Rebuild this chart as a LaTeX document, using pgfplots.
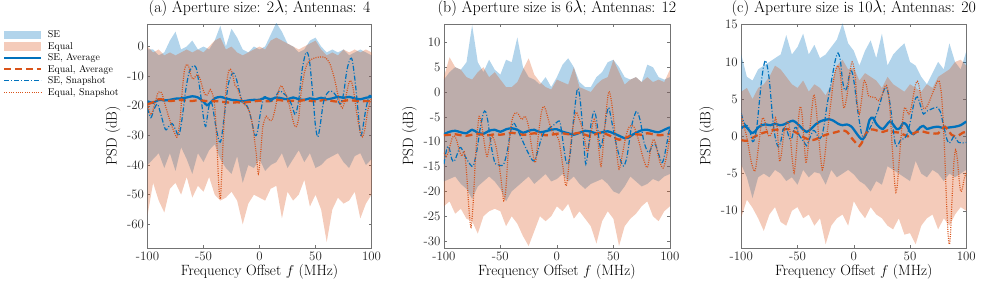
\documentclass[border=0pt]{standalone}
\usepackage{fontspec}
\usepackage{pgfplots}
\usepackage{pgfplotstable}
\pgfplotsset{compat=1.18}
\usepgfplotslibrary{fillbetween}
\definecolor{seblue}{rgb}{0,0.447,0.741}
\definecolor{eqorange}{rgb}{0.85,0.325,0.098}

\pgfplotstableread{
x seu sel equ eql
-100 -1 -40 0 -57
-95 -1 -38 -2 -46
-90 -3 -36 -1 -52
-85 -2 -41 -3 -56
-80 2 -36 -2 -48
-75 5 -42 -3 -46
-70 -1 -34 -2 -50
-65 0 -38 -1 -44
-60 2 -43 -2 -51
-55 -1 -36 -1 -47
-50 0 -39 -2 -49
-45 -1 -35 0 -44
-40 2 -33 2 -50
-35 7 -38 3 -52
-30 0 -41 -1 -51
-25 6 -43 0 -49
-20 3 -37 -2 -52
-15 -1 -46 -3 -60
-10 -2 -40 -2 -53
-5 0 -41 -1 -50
0 -1 -38 0 -51
5 0 -42 -1 -52
10 4 -40 2 -48
15 8 -39 3 -47
20 5 -36 2 -58
25 1 -41 1 -49
30 0 -38 0 -52
35 -2 -35 -1 -50
40 -1 -39 0 -45
45 2 -36 1 -54
50 3 -41 2 -50
55 0 -40 -1 -55
60 -2 -38 -3 -66
65 -1 -37 -2 -55
70 -2 -36 -3 -51
75 -1 -39 -1 -53
80 -3 -41 -2 -52
85 -2 -37 -1 -49
90 -1 -36 -2 -58
95 -2 -40 -1 -53
100 -3 -38 -2 -50
}\bandA

\pgfplotstableread{
x seu sel equ eql
-100 2.5 -18 3 -23
-95 4 -17.5 7 -22
-90 5 -17 5 -24.5
-85 4.5 -18.5 4.5 -23.5
-80 6 -19.5 3 -25.5
-75 13.5 -21.5 2.5 -26
-70 6 -19 4 -28.5
-65 4 -18 5 -25
-60 6.5 -17 3 -24
-55 4.5 -18 4 -23.5
-50 3.5 -19.5 2.5 -24
-45 6.5 -22 1 -27
-40 6 -20 1 -25
-35 11 -19 2 -26.5
-30 5 -18 4.5 -29
-25 3 -17 6.8 -31
-20 2.5 -18.5 3.5 -28
-15 1.5 -17.5 2 -25
-10 3 -16.5 1 -26
-5 1 -18 0.5 -25
0 3 -17.5 2.5 -23
5 5.5 -16.5 2 -24
10 6.8 -18 1.5 -22.5
15 5 -17 5 -25.5
20 2 -18.5 1 -24
25 1 -19.5 0.5 -25.5
30 1 -18.5 0 -27
35 3 -18 1.5 -30.5
40 4 -17.5 2.5 -26
45 6 -18.5 3 -24
50 6.5 -20 6.5 -25.5
55 5 -20.5 4 -31
60 3 -19 1.5 -27
65 2.5 -17 2.5 -25.5
70 3 -18 3 -24.5
75 2 -19 2 -23
80 5.5 -18.5 3 -22
85 5 -17.5 2 -25
90 3 -18 2.5 -26
95 2.5 -17 2 -24
100 3 -16.5 4.5 -23
}\bandB

\pgfplotstableread{
x seu sel equ eql
-100 11 -3.8 6 -10.9
-95 8 -5.5 6.5 -8.5
-90 7.5 -8.3 5 -9.6
-85 9 -5.5 6.5 -11
-80 9.5 -5 7 -12.7
-75 10 -5.5 8 -10.5
-70 10.5 -4.5 9.5 -9.5
-65 11 -5 9 -11.5
-60 13.6 -6 8 -12
-55 11 -5.5 7 -10
-50 12 -6.5 6.5 -9.5
-45 13.8 -4.5 7.5 -11
-40 11 -5.5 6 -10.5
-35 12.3 -4.8 7 -12
-30 10.5 -5 6.5 -11
-25 11 -6.5 5.5 -14.5
-20 12 -4.5 7 -12
-15 13 -5.5 9.5 -11
-10 15.2 -5 10.3 -10.5
-5 12.5 -4.5 9 -12
0 11.5 -5.1 9.2 -8.7
5 9.5 -6 7.5 -10
10 11.5 -6.5 8.5 -11
15 12.9 -7.4 8 -9.5
20 10.5 -6 7.5 -10.5
25 13.8 -6.5 6.5 -11
30 9.5 -4 8 -12
35 11 -4.5 7 -12.5
40 11.8 -5 6.5 -11
45 12.5 -5.5 6 -13.2
50 10 -6 7 -13
55 9.5 -3.3 6.5 -14.5
60 8 -5 6 -12
65 7 -5.5 7 -11
70 8.5 -4.5 6.5 -10.5
75 10 -5 8 -12.5
80 9 -6 8.5 -11
85 12.5 -5 9 -12
90 10 -5.5 10 -10.5
95 9 -5 10.3 -9.5
100 11.4 -4.5 9.5 -10
}\bandC

\pgfplotsset{
  every axis plot post/.append style={legend image code/.code={\draw[##1] (0pt,0pt) -- (37pt,0pt);}},
  psd/.style={
    scale only axis, height=226pt,
    xmin=-100, xmax=100,
    xtick={-100,-50,0,50,100}, xticklabels={-100,-50,0,50,100},
    tick label style={font=\fontsize{13}{15}\selectfont, text=black!85},
    label style={font=\fontsize{15}{17}\selectfont\addfontfeatures{WordSpace=1.4}},
    title style={font=\fontsize{16}{19}\selectfont\addfontfeatures{WordSpace=1.8}, inner sep=1pt},
    xlabel={Frequency Offset $f$ (MHz)}, ylabel={PSD (dB)},
    xlabel style={at={(axis description cs:0.5,0)}, anchor=base, yshift=-28pt, inner sep=0pt},
    axis line style={black!55, line width=0.5pt},
    tick style={black!55, line width=0.5pt},
    major tick length=3pt,
  },
  seavg/.style={color=seblue, line width=2.3pt, smooth, forget plot},
  eqavg/.style={color=eqorange, line width=2.3pt, dash pattern=on 7pt off 4pt, smooth, forget plot},
  sesnap/.style={color=seblue, line width=1.2pt, dash pattern=on 5pt off 2pt on 1pt off 2pt, smooth, forget plot},
  eqsnap/.style={color=eqorange, line width=1.2pt, dash pattern=on 1pt off 1.3pt, smooth, forget plot},
}

\begin{document}
\begin{tikzpicture}
\path (0pt,0pt) rectangle (996pt,281pt);

% ---------------- panel (a)
\begin{axis}[psd, at={(140pt,36pt)}, anchor=south west, width=226pt,
  ymin=-68, ymax=7.6, ytick={-60,-50,-40,-30,-20,-10,0},
  yticklabels={-60,-50,-40,-30,-20,-10,0},
  title={(a) Aperture size: 2$\lambda$; Antennas: 4},
  legend style={at={(-0.123,0.975)}, anchor=north east, draw=none, fill=none,
    inner sep=0pt, outer sep=0pt, font=\fontsize{10}{12}\selectfont,
    cells={anchor=west}, nodes={inner sep=1.2pt}, row sep=0.6pt, column sep=1.5pt}]
\addplot[draw=none, name path=au, forget plot] table[x=x,y=seu]{\bandA};
\addplot[draw=none, name path=al, forget plot] table[x=x,y=sel]{\bandA};
\addplot[draw=none, name path=bu, forget plot] table[x=x,y=equ]{\bandA};
\addplot[draw=none, name path=bl, forget plot] table[x=x,y=eql]{\bandA};
\addplot[fill=seblue, fill opacity=0.3, draw=none, forget plot] fill between[of=au and al];
\addplot[fill=eqorange, fill opacity=0.3, draw=none, forget plot] fill between[of=bu and bl];
\addlegendimage{color=seblue, draw opacity=0.3, line width=8.5pt}
\addlegendentry{SE}
\addlegendimage{color=eqorange, draw opacity=0.3, line width=8.5pt}
\addlegendentry{Equal}
\addlegendimage{color=seblue, line width=2pt}
\addlegendentry{SE, Average}
\addlegendimage{color=eqorange, line width=2pt, dash pattern=on 7pt off 4pt}
\addlegendentry{Equal, Average}
\addlegendimage{color=seblue, line width=1.1pt, dash pattern=on 5pt off 2pt on 1pt off 2pt}
\addlegendentry{SE, Snapshot}
\addlegendimage{color=eqorange, line width=1.1pt, dash pattern=on 1pt off 1.3pt}
\addlegendentry{Equal, Snapshot}
\addplot[seavg] coordinates {(-100,-18.5) (-95,-19) (-90,-18) (-85,-18.2) (-80,-18) (-75,-17.6) (-70,-17.5) (-65,-17.2) (-60,-16.8) (-55,-17.2) (-50,-18.6) (-47,-19.8) (-44,-19) (-40,-17.5) (-35,-17) (-30,-17.5) (-25,-18) (-20,-18.2) (-15,-18.5) (-10,-18.2) (-5,-18) (0,-18) (5,-17.3) (10,-17.8) (15,-17.2) (20,-17.5) (25,-17.8) (30,-17.2) (35,-17.8) (40,-18) (45,-17.5) (50,-17.8) (55,-17.3) (60,-17.8) (65,-17.5) (70,-17) (75,-17.3) (80,-17) (85,-17.5) (90,-17.8) (95,-17.3) (100,-17)};
\addplot[eqavg] coordinates {(-100,-19.5) (-95,-18.8) (-90,-17.8) (-85,-18) (-80,-18.4) (-75,-18.2) (-70,-18) (-65,-18.3) (-60,-18.4) (-55,-18.1) (-50,-18.3) (-45,-18.5) (-40,-18.4) (-35,-18.6) (-30,-18.8) (-25,-19) (-20,-18.8) (-15,-19) (-10,-18.7) (-5,-18.5) (0,-18.3) (5,-18.5) (10,-18.4) (15,-18) (20,-18.2) (25,-18.5) (30,-18.3) (35,-18.4) (40,-18.1) (45,-18.3) (50,-18.5) (55,-18.2) (60,-18) (65,-18.4) (70,-18.6) (75,-18.4) (80,-18.1) (85,-18.3) (90,-18.5) (95,-18.4) (100,-18.6)};
\addplot[sesnap] coordinates {(-100,-20.8) (-97,-24) (-94,-21) (-91,-19.5) (-88,-23) (-84,-28) (-81,-27) (-78,-26) (-75,-28) (-72,-30) (-69,-24) (-66,-15) (-63,-9) (-60,-6.8) (-58,-6.5) (-56,-8) (-53,-15) (-50,-24) (-48,-27) (-46,-22) (-44,-18.5) (-42,-20) (-39,-27) (-36,-32) (-34,-31) (-31,-22) (-28,-13) (-25,-9.5) (-23,-9) (-21,-10.5) (-18,-15) (-15,-19) (-12,-19.5) (-9,-22) (-6,-27) (-4,-30) (-2,-29) (1,-22) (4,-17) (7,-17.5) (10,-18.5) (14,-17) (18,-15) (22,-16) (26,-17.5) (29,-20) (32,-23) (35,-18) (38,-8) (41,-2.5) (43,-2.2) (45,-6) (48,-18) (50,-27) (52,-30.5) (54,-27) (57,-19) (60,-16) (63,-15) (66,-15.5) (69,-17) (72,-19.5) (75,-16) (78,-8) (81,-4.2) (83,-5) (86,-14) (89,-26) (90.5,-30) (92,-28) (95,-21) (98,-16.5) (100,-17)};
\addplot[eqsnap] coordinates {(-100,-19.7) (-97,-23) (-94,-20) (-91,-16) (-89,-15.3) (-87,-16) (-84,-20) (-80,-25) (-76,-29) (-73.5,-30.5) (-71,-25) (-69,-15) (-67,-8) (-65,-6) (-63,-7) (-61,-10) (-59,-11) (-57,-10) (-55,-9.5) (-53,-11) (-50,-15) (-48,-16.5) (-46,-16) (-44,-14.5) (-42,-16) (-40,-20) (-38,-33) (-36.5,-46) (-35,-51.5) (-34,-45) (-32,-28) (-30,-15) (-28,-9) (-26,-7.7) (-24,-9.5) (-22,-13) (-20,-14) (-18,-16) (-15,-19) (-12,-20) (-9,-22) (-6,-27) (-3,-36) (-1,-43) (1,-36) (3,-27) (6,-23.5) (8,-24.5) (11,-25) (14,-21) (17,-15) (19.5,-13.2) (22,-15) (25,-17.5) (28,-22) (31,-26.5) (33,-27) (35,-24) (37,-16) (40,-9) (43,-5.5) (47,-4.2) (51,-3.7) (55,-3.5) (59,-3.8) (63,-6) (67,-11) (71,-18) (74,-20.8) (77,-17) (80,-12) (82,-11.8) (84,-15) (87,-23) (90,-29) (92,-30.5) (94,-28) (97,-21) (100,-17.5)};
\end{axis}

% ---------------- panel (b)
\begin{axis}[psd, at={(439pt,36pt)}, anchor=south west, width=228pt,
  ymin=-31.4, ymax=13.7, ytick={-30,-25,-20,-15,-10,-5,0,5,10},
  yticklabels={-30,-25,-20,-15,-10,-5,0,5,10},
  title={(b) Aperture size is 6$\lambda$; Antennas: 12}]
\addplot[draw=none, name path=au, forget plot] table[x=x,y=seu]{\bandB};
\addplot[draw=none, name path=al, forget plot] table[x=x,y=sel]{\bandB};
\addplot[draw=none, name path=bu, forget plot] table[x=x,y=equ]{\bandB};
\addplot[draw=none, name path=bl, forget plot] table[x=x,y=eql]{\bandB};
\addplot[fill=seblue, fill opacity=0.3, draw=none, forget plot] fill between[of=au and al];
\addplot[fill=eqorange, fill opacity=0.3, draw=none, forget plot] fill between[of=bu and bl];
\addplot[seavg] coordinates {(-100,-8.5) (-95,-8) (-90,-7.8) (-85,-8.1) (-80,-8.3) (-75,-7.6) (-70,-8.2) (-65,-8.4) (-60,-7.8) (-55,-7.6) (-50,-8) (-45,-7.5) (-40,-7.3) (-35,-7.6) (-30,-8.2) (-25,-7.8) (-20,-7.6) (-15,-8.1) (-10,-7.9) (-5,-7.6) (0,-7.5) (5,-8) (10,-8.3) (15,-8.6) (20,-8.2) (25,-7.8) (30,-8) (35,-8.3) (40,-8.1) (45,-7.9) (50,-8.3) (55,-8.8) (60,-9.3) (63,-9.2) (67,-8.6) (70,-8.2) (75,-7.7) (80,-7.6) (85,-7.9) (90,-8.1) (95,-7.6) (100,-7.1)};
\addplot[eqavg] coordinates {(-100,-8.7) (-95,-8.6) (-90,-8.5) (-85,-8.7) (-80,-8.8) (-75,-8.6) (-70,-8.5) (-65,-8.6) (-60,-8.7) (-55,-8.5) (-50,-8.6) (-45,-8.4) (-40,-8.2) (-35,-8.4) (-30,-8.6) (-25,-8.5) (-20,-8.3) (-15,-8.5) (-10,-8.7) (-5,-8.6) (0,-8.4) (5,-8.3) (10,-8.5) (15,-8.4) (20,-8.2) (25,-8.6) (30,-8.9) (35,-8.4) (40,-8.2) (45,-8.6) (50,-9.1) (55,-9.6) (60,-9.3) (65,-8.8) (70,-8.5) (75,-8.6) (80,-8.3) (85,-8.5) (90,-8.7) (95,-8.6) (100,-8.4)};
\addplot[sesnap] coordinates {(-100,-14.5) (-98,-12) (-96.5,-10.9) (-95,-11.5) (-93,-13.5) (-91,-14) (-89,-13) (-86,-11.2) (-84,-11.5) (-81,-13) (-77,-14.5) (-74,-14.9) (-71,-12) (-68,-7.5) (-65,-4.2) (-63,-4) (-61,-6) (-58,-11) (-55,-14.2) (-53,-14.5) (-50,-14.8) (-47,-14.5) (-44,-12) (-41,-8) (-38.5,-6.2) (-36,-7) (-33,-8.5) (-30,-10) (-27,-11.5) (-23,-13.3) (-20,-13.9) (-17,-12) (-14,-9.5) (-11,-8) (-8,-7.5) (-5,-7) (-2,-6.5) (1,-5.9) (3,-6.3) (6,-11) (8,-13.9) (10,-14.5) (12,-12) (15,-5) (18,0.5) (20,-0.5) (22,-5) (24,-11) (25.6,-14.5) (28,-11) (30.5,-6) (33,-3.9) (35,-5.5) (38.5,-11.2) (41,-9) (44,-4.5) (46,-3.2) (49,-6.5) (52,-10) (56,-13.5) (59,-14.9) (62,-13) (66,-7) (69,-4.5) (71,-3.9) (74,-6) (77,-10) (81,-12.2) (84,-11) (87,-10.5) (90,-12.5) (93,-14.2) (95,-13) (98,-9.5) (100,-7)};
\addplot[eqsnap] coordinates {(-100,-12.2) (-98,-13) (-96,-12) (-93,-9.5) (-91,-8.8) (-89,-9.5) (-86,-12) (-84,-12.9) (-82,-12) (-80,-16) (-78,-23) (-76,-27.2) (-74,-22) (-72,-13) (-70,-7) (-68.8,-4.9) (-67,-6) (-65,-9) (-63,-12) (-61.5,-12.9) (-59,-10) (-57,-8.9) (-55,-10) (-53,-12) (-50,-16.5) (-47,-21.9) (-45,-19) (-43,-12) (-40,-6) (-37,-4.2) (-34,-4.5) (-31,-5.5) (-28,-4.9) (-25,-7) (-22,-11.5) (-19,-14.2) (-16.5,-9) (-14,-4.5) (-12,-2.9) (-10,-3.5) (-7,-6) (-4,-8) (-1,-8.5) (2,-10) (5,-14.5) (8,-18.9) (10,-16) (13,-9) (16.8,-4.2) (19,-5) (22,-7) (24,-8.9) (27,-12) (30,-8.5) (33,-5.5) (36,-9) (39,-14.9) (42,-8) (44,-3) (46,0.1) (48,-1.5) (50,-5) (52.5,-11) (55,-15.5) (58,-12.5) (61,-9) (64,-7) (68,-6.9) (72,-9.5) (76,-13) (80,-15.2) (83,-11.5) (85.5,-9.5) (88,-11) (91,-14) (94,-15.3) (97,-13) (100,-9)};
\end{axis}

% ---------------- panel (c)
\begin{axis}[psd, at={(739pt,36pt)}, anchor=south west, width=227pt,
  ymin=-15, ymax=15.1, ytick={-10,-5,0,5,10,15},
  yticklabels={-10,-5,0,5,10,15},
  title={(c) Aperture size is 10$\lambda$; Antennas: 20}]
\addplot[draw=none, name path=au, forget plot] table[x=x,y=seu]{\bandC};
\addplot[draw=none, name path=al, forget plot] table[x=x,y=sel]{\bandC};
\addplot[draw=none, name path=bu, forget plot] table[x=x,y=equ]{\bandC};
\addplot[draw=none, name path=bl, forget plot] table[x=x,y=eql]{\bandC};
\addplot[fill=seblue, fill opacity=0.3, draw=none, forget plot] fill between[of=au and al];
\addplot[fill=eqorange, fill opacity=0.3, draw=none, forget plot] fill between[of=bu and bl];
\addplot[seavg] coordinates {(-100,1.1) (-97,1.4) (-94,1) (-91,0.5) (-88,0.6) (-85,1.2) (-82,1.5) (-78,1.6) (-74,1.5) (-70,1.7) (-66,1.5) (-62,1.6) (-58,1.9) (-54,2.1) (-50,1.7) (-46,1.1) (-42,0.6) (-38,1) (-34,1.6) (-30,2) (-26,2.2) (-22,2.3) (-18,2.1) (-14,1.7) (-10,1.5) (-6,1.6) (-2,1.3) (2,0.5) (5,-0.1) (8,-0.4) (11,0.4) (14,2.2) (17,2.5) (20,1.7) (23,1.2) (26,1) (29,1.5) (32,2) (35,1.6) (38,1) (41,1.1) (44,1.8) (47,1.5) (50,0.6) (53,0.3) (56,0.7) (59,1.2) (62,1.4) (65,1) (70,1.2) (75,1.3) (80,1.1) (85,1.2) (90,1.3) (95,1.5) (100,2)};
\addplot[eqavg] coordinates {(-100,-0.5) (-95,-0.6) (-90,-0.2) (-85,0.2) (-80,0.5) (-75,0.7) (-70,0.9) (-65,0.8) (-60,1) (-55,0.8) (-50,0.4) (-46,0) (-42,-0.3) (-38,-0.5) (-34,-0.4) (-30,-0.1) (-25,0.2) (-20,0.4) (-15,0.6) (-10,0.8) (-6,0.6) (-2,-0.2) (2,-0.9) (5,-1.3) (8,-0.6) (11,0.4) (14,0.9) (18,0.9) (22,0.7) (26,0.6) (30,0.8) (35,0.6) (40,0.5) (45,0.2) (48,0) (52,0.3) (56,0.6) (60,0.7) (65,0.5) (70,0.4) (75,0.4) (78,0.9) (81,1.3) (84,0.8) (87,0.2) (90,0) (94,0.2) (97,0.5) (100,0.6)};
\addplot[sesnap] coordinates {(-100,3.1) (-98,2) (-96,1.5) (-94,1.4) (-92,0.5) (-90,-0.7) (-88,-0.3) (-86,1.5) (-84,4.5) (-82,7.5) (-80,9.5) (-78.5,10.2) (-77,9.5) (-75,7.5) (-73,4) (-71,1) (-69,-0.7) (-67,-1.4) (-65,-0.8) (-63,0.8) (-61,1.2) (-59,0.6) (-57,-0.3) (-55,-0.2) (-53,1) (-51,1.2) (-49,0.3) (-46,-0.4) (-44,-0.8) (-42,-1.25) (-40,-0.6) (-38,0.2) (-36,0.8) (-34,0.6) (-32,0) (-30,-0.3) (-28,0.3) (-26,1.8) (-24,4) (-21,6.5) (-18,9) (-16,10.5) (-14,11.2) (-12,10.3) (-10,7.5) (-8,6.2) (-6,6.6) (-4,8.2) (-2.5,8.8) (-1,8.4) (1,6.5) (3,4) (5,2) (7,0.3) (9,-0.2) (11,0.2) (14,1) (18,2.2) (21,3.3) (24,4.8) (27,6.3) (29,6.6) (31,5.5) (33,3.5) (35,1) (37,-1.1) (39,-1.2) (42,-0.4) (45,-0.3) (48,0.5) (51,2.5) (54,4.8) (56.5,5.3) (58,4.8) (60,3.8) (62,3) (65,3.4) (68,3.6) (71,3.8) (74,3.9) (77,3.3) (79,2) (81,0.7) (83,-0.5) (85,-0.9) (87,-0.5) (89,0) (91,-0.3) (93,-0.8) (96,-0.9) (100,-0.8)};
\addplot[eqsnap] coordinates {(-100,3) (-98,1.5) (-96,0.5) (-94,-1) (-91,-3.5) (-88,-4.7) (-86,-3) (-84,-0.5) (-82,2) (-80.5,2.5) (-79,2) (-77,0.5) (-75,0) (-73,0.5) (-71,1.5) (-69.5,2.5) (-68,1) (-66,-3.3) (-64,-2) (-62,0.5) (-59,2) (-57,1) (-55,-2.5) (-53,-4.9) (-51,-2) (-49,2.5) (-47.5,4) (-46,3) (-44,-1) (-42.5,-3.6) (-41,-2) (-39,1) (-37,4) (-35.5,5.6) (-34,4.5) (-32,1.5) (-30,-2) (-28,-4.5) (-26,-3) (-24,0) (-22,2.5) (-20,5) (-18,7.5) (-16,9) (-14,9.5) (-12,8.5) (-10,5) (-8.5,3.8) (-6,5.5) (-3.5,8.5) (-1.5,10) (1,8.5) (3,4.5) (5,3) (7,5) (9,7.4) (11,7) (13,5.5) (16,5.3) (19,5.2) (22,4.8) (25,5.5) (28,6.8) (30,6.5) (32,4) (34,-1) (36,-5.5) (37.5,-7.5) (39,-6) (41,-2) (43,1.5) (45,3.8) (47,3.5) (49,3) (51,3.8) (53,5.5) (55,7) (56.5,7.4) (58,6.8) (60,5) (62,3.8) (64,3.8) (66,4.3) (68,5) (70,5.8) (72,6.5) (74,7.3) (76,7.4) (78,5.5) (79.5,2) (81,-3) (82.5,-9) (84,-13.5) (85,-14.5) (86,-13) (87.5,-8) (89,-3.5) (90.5,-1.8) (92,-3) (93.5,-5.5) (95,-7.4) (96.5,-7) (98,-5.8) (100,-4.8)};
\end{axis}
\end{tikzpicture}
\end{document}
